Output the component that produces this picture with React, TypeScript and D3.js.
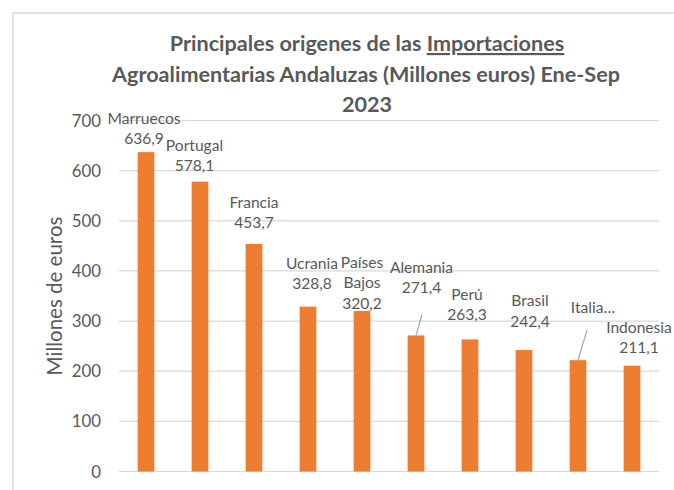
import React from 'react';
import * as d3 from 'd3';

// ---- data ----
const categories = ['Marruecos', 'Portugal', 'Francia', 'Ucrania', 'Países Bajos', 'Alemania', 'Perú', 'Brasil', 'Italia', 'Indonesia'];
const values = [636.9, 578.1, 453.7, 328.8, 320.2, 271.4, 263.3, 242.4, 222.0, 211.1];
const labelNameLines = [['Marruecos'], ['Portugal'], ['Francia'], ['Ucrania'], ['Países', 'Bajos'], ['Alemania'], ['Perú'], ['Brasil'], ['Italia…'], ['Indonesia']];
const showValue = [true, true, true, true, true, true, true, true, false, true];
const yTicks = [0, 100, 200, 300, 400, 500, 600, 700];
const titleLines = ['Principales origenes de las ', 'Importaciones', 'Agroalimentarias Andaluzas (Millones euros) Ene-Sep', '2023'];
const yAxisTitle = 'Millones de euros';

// ---- layout (label anchor offsets relative to bar centre / bar top) ----
const labelOffsets: [number, number][] = [[-2, -8], [-5.5, -10.5], [0, -16], [4, -17.6], [0, -2], [5.5, -42], [-3, -19], [6, -23], [15, -47], [7, -12.6]];
const leaderStarts: Record<number, [number, number]> = { 5: [0.5, 21], 8: [-6, 17] };

const W = 674, H = 490;
const M = { left: 119, right: 659, top: 120.5, bottom: 471.5 };
const FONT = 'Lato, "Open Sans", sans-serif';
const TXT = '#595959';

const locale = d3.formatLocale({ decimal: ',', thousands: '.', grouping: [3], currency: ['', '€'] });
const fmt = locale.format('.1f');

export default function App() {
  const x = d3.scaleBand<string>().domain(categories).range([M.left, M.right]).paddingInner(0.69).paddingOuter(0.345);
  const y = d3.scaleLinear().domain([0, 700]).range([M.bottom, M.top]);
  const lineH = 20.5;

  return (
    <svg width={W} height={H} style={{ position: 'absolute', left: 0, top: 0, background: '#fff' }} fontFamily={FONT}>
      <rect x={0} y={0} width={W} height={H} fill="#fff" />
      <rect x={13} y={13} width={W + 20} height={H + 20} fill="none" stroke="#d9d9d9" strokeWidth={1.5} />
      {/* title */}
      <text x={367} y={51} textAnchor="middle" fontSize={21.6} fontWeight="bold" fill={TXT}>
        {titleLines[0]}<tspan textDecoration="underline">{titleLines[1]}</tspan>
      </text>
      <text x={366} y={82} textAnchor="middle" fontSize={21.6} fontWeight="bold" fill={TXT}>{titleLines[2]}</text>
      <text x={367} y={112} textAnchor="middle" fontSize={21.6} fontWeight="bold" fill={TXT}>{titleLines[3]}</text>

      {/* grid + ticks */}
      {yTicks.map(t => (
        <g key={t}>
          <line x1={M.left} x2={M.right} y1={y(t)} y2={y(t)} stroke="#d9d9d9" strokeWidth={1.2} />
          <text x={101} y={y(t)} dy="0.36em" textAnchor="end" fontSize={16.8} fill={TXT}>{t}</text>
        </g>
      ))}

      {/* axis title */}
      <text transform={`translate(62,${296}) rotate(-90)`} textAnchor="middle" fontSize={20.5} fill={TXT}>{yAxisTitle}</text>

      {/* bars */}
      {categories.map((c, i) => (
        <rect key={c} x={x(c)} y={y(values[i])} width={x.bandwidth()} height={y(0) - y(values[i])} fill="#ED7D31" />
      ))}

      {/* data labels */}
      {categories.map((c, i) => {
        const cx = (x(c) as number) + x.bandwidth() / 2;
        const top = y(values[i]);
        const lx = cx + labelOffsets[i][0];
        const ly = top + labelOffsets[i][1];
        const lines = showValue[i] ? [...labelNameLines[i], fmt(values[i])] : labelNameLines[i];
        const n = lines.length;
        const ls = leaderStarts[i];
        return (
          <g key={c}>
            {lines.map((l, k) => (
              <text key={k} x={lx} y={ly - (n - 1 - k) * lineH} textAnchor="middle" fontSize={15.6} fill={TXT}>{l}</text>
            ))}
            {ls && <line x1={lx + ls[0]} y1={ly + ls[1]} x2={cx} y2={top} stroke="#a6a6a6" strokeWidth={1.2} />}
          </g>
        );
      })}
    </svg>
  );
}
